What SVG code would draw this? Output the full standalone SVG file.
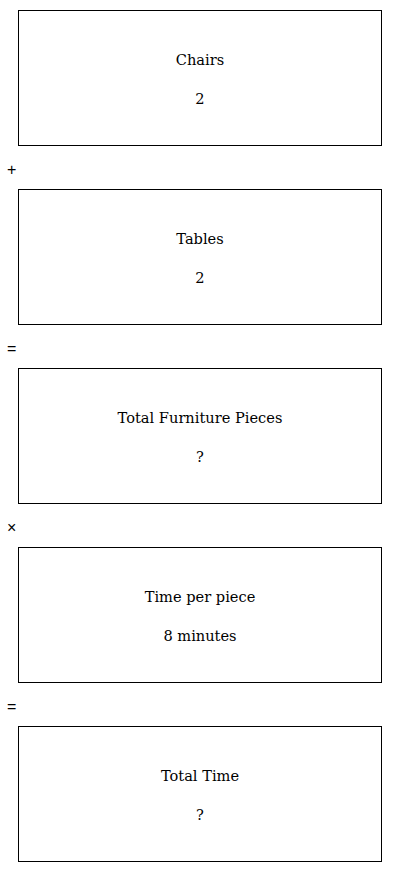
<svg xmlns="http://www.w3.org/2000/svg" width="400" height="872" viewBox="0 0 400 872">
<style>
.box{fill:#fff;stroke:#000;stroke-width:1}
.t{font-family:"DejaVu Serif","Liberation Serif",serif;font-size:14.6px;text-anchor:middle;fill:#000}
.op{font-family:"Liberation Sans","DejaVu Sans",sans-serif;font-size:16px;fill:#000}
</style>
<rect width="400" height="872" fill="#fff"/>
<g id="chairs"><rect class="box" x="18.5" y="10.5" width="363" height="135"/><text class="t" x="200" y="65">Chairs</text><text class="t" x="200" y="104">2</text></g>
<g id="tables"><rect class="box" x="18.5" y="189.5" width="363" height="135"/><text class="t" x="200" y="244">Tables</text><text class="t" x="200" y="283">2</text></g>
<g id="total-furniture"><rect class="box" x="18.5" y="368.5" width="363" height="135"/><text class="t" x="200" y="423">Total Furniture Pieces</text><text class="t" x="200" y="462">?</text></g>
<g id="time-per-piece"><rect class="box" x="18.5" y="547.5" width="363" height="135"/><text class="t" x="200" y="602">Time per piece</text><text class="t" x="200" y="641">8 minutes</text></g>
<g id="total-time"><rect class="box" x="18.5" y="726.5" width="363" height="135"/><text class="t" x="200" y="781">Total Time</text><text class="t" x="200" y="820">?</text></g>
<g id="connectors">
<text class="op" x="7" y="175">+</text>
<text class="op" x="7" y="354">=</text>
<text class="op" x="7" y="533">×</text>
<text class="op" x="7" y="712">=</text>
</g>
</svg>
